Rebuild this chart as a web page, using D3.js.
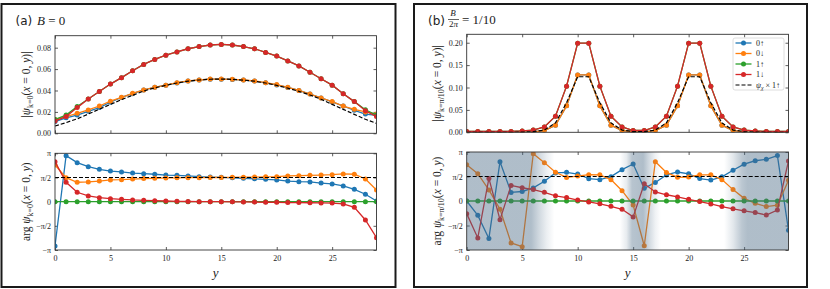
<!DOCTYPE html>
<html>
<head>
<meta charset="utf-8">
<script src="https://cdn.jsdelivr.net/npm/d3@7"></script>
<style>
  body { margin: 0; background: #fff; }
  text { fill: #222; }
  .tick text { font-family: 'Liberation Serif', 'DejaVu Serif', serif; font-size: 8px; }
</style>
</head>
<body>
<div id="chart"></div>
<script>
// ---- data ----
var ys = [0,1,2,3,4,5,6,7,8,9,10,11,12,13,14,15,16,17,18,19,20,21,22,23,24,25,26,27,28,29];
var seriesNames = ["0↑", "0↓", "1↑", "1↓"];
var seriesColors = ["#1f77b4", "#ff7f0e", "#2ca02c", "#d62728"];

// panel (a): B = 0
var absA = [
  [0.011,0.0145,0.017,0.0205,0.024,0.029,0.0335,0.037,0.0405,0.043,0.045,0.047,0.0488,0.0498,0.0506,0.0506,0.0503,0.0497,0.0488,0.0472,0.0452,0.0428,0.040,0.0367,0.033,0.0293,0.0255,0.0215,0.018,0.0168],
  [0.013,0.0156,0.0187,0.0218,0.0255,0.030,0.0336,0.0374,0.0405,0.043,0.045,0.0473,0.0489,0.0498,0.0507,0.0507,0.0504,0.0498,0.0489,0.0473,0.0455,0.043,0.040,0.0367,0.033,0.0296,0.0255,0.0224,0.020,0.018],
  [0.013,0.017,0.025,0.032,0.039,0.046,0.052,0.0585,0.0644,0.069,0.073,0.076,0.079,0.081,0.0825,0.083,0.0825,0.081,0.079,0.0756,0.0722,0.0676,0.063,0.057,0.051,0.045,0.037,0.0296,0.022,0.017],
  [0.0115,0.0156,0.024,0.032,0.039,0.046,0.052,0.0585,0.0644,0.069,0.073,0.076,0.079,0.081,0.0825,0.083,0.0825,0.081,0.079,0.0756,0.0722,0.0676,0.063,0.057,0.051,0.045,0.037,0.0296,0.021,0.0156]
];
var absAref = [0.0068,0.010,0.0135,0.018,0.0225,0.027,0.0315,0.0355,0.0395,0.0425,0.0448,0.047,0.0487,0.0498,0.0505,0.0507,0.0504,0.0497,0.0487,0.047,0.0448,0.0422,0.0392,0.0358,0.0318,0.027,0.0224,0.0177,0.0131,0.0093];
var argA = [
  [-2.88,2.99,2.535,2.275,2.10,1.99,1.93,1.86,1.82,1.78,1.73,1.71,1.67,1.62,1.60,1.58,1.55,1.52,1.48,1.45,1.41,1.34,1.30,1.28,1.21,1.15,1.02,0.80,0.48,0.04],
  [2.38,1.56,1.26,1.28,1.34,1.41,1.43,1.47,1.50,1.52,1.54,1.55,1.56,1.56,1.57,1.57,1.58,1.59,1.60,1.61,1.62,1.67,1.69,1.71,1.73,1.75,1.80,1.78,1.47,0.76],
  [0,0,0,0,0,0,0,0,0,0,0,0,0,0,0,0,0,0,0,0,0,0,0,0,0,0,0,0,0,0],
  [2.60,1.26,0.61,0.37,0.26,0.195,0.15,0.11,0.087,0.065,0.043,0.02,0.01,0,0,0,-0.01,-0.02,-0.03,-0.04,-0.04,-0.06,-0.06,-0.07,-0.08,-0.09,-0.15,-0.37,-1.19,-2.34]
];

// panel (b): B/2pi = 1/10
var absB = [
  [0,0,0,0,0,0.0005,0.001,0.004,0.016,0.059,0.128,0.128,0.059,0.016,0.004,0.001,0.001,0.004,0.016,0.059,0.128,0.128,0.059,0.016,0.004,0.001,0.0005,0,0,0],
  [0,0,0,0,0,0.0005,0.001,0.004,0.016,0.059,0.128,0.128,0.059,0.016,0.004,0.001,0.001,0.004,0.016,0.059,0.128,0.128,0.059,0.016,0.004,0.001,0.0005,0,0,0],
  [0.002,0.002,0.002,0.002,0.002,0.003,0.005,0.012,0.036,0.103,0.199,0.199,0.103,0.036,0.012,0.004,0.004,0.012,0.036,0.103,0.199,0.199,0.103,0.036,0.012,0.005,0.003,0.002,0.002,0.002],
  [0.002,0.002,0.002,0.002,0.002,0.003,0.005,0.012,0.036,0.103,0.199,0.199,0.103,0.036,0.012,0.004,0.004,0.012,0.036,0.103,0.199,0.199,0.103,0.036,0.012,0.005,0.003,0.002,0.002,0.002]
];
var absBref = [0,0,0,0,0,0.0005,0.0015,0.005,0.021,0.066,0.124,0.124,0.066,0.021,0.005,0.0015,0.0015,0.005,0.021,0.066,0.124,0.124,0.066,0.021,0.005,0.0015,0.0005,0,0,0];
var argB = [
  [0,-0.92,-2.40,2.52,0.55,0.61,0.84,1.27,1.80,1.84,1.73,1.43,1.37,1.56,2.01,2.37,0.81,1.19,1.67,1.86,1.74,1.44,1.34,1.55,1.97,2.36,2.58,2.67,2.91,-1.88],
  [2.33,1.75,0.71,-0.53,-2.69,-2.93,3.03,2.46,1.84,1.51,1.60,1.69,1.68,1.37,0.66,-0.26,-2.87,2.52,1.83,1.52,1.54,1.68,1.68,1.37,0.73,0.17,-0.15,-0.36,-0.27,1.33],
  [0,0,0,0,0,0,0,0,0,0,0,0,0,0,0,0,0,0,0,0,0,0,0,0,0,0,0,0,0,0],
  [-0.81,-2.37,1.45,-1.20,1.00,0.85,0.73,0.56,0.33,0.22,0.06,-0.06,-0.18,-0.34,-0.53,-1.02,1.11,0.58,0.40,0.26,0.11,-0.04,-0.19,-0.36,-0.50,-0.63,-0.74,-0.90,-0.58,2.57]
];
// shading where the amplitude is small: [y, strength]
var shadeB = [[0,1],[5.8,1],[6.5,0.6],[7.2,0.25],[7.9,0],[13.8,0],[14.4,0.3],[14.9,0.9],[15.9,1],[16.4,0.6],[17.0,0.2],[17.5,0],[23.2,0],[24.0,0.35],[24.8,0.85],[25.3,1],[29,1]];

var xTicks = [0,5,10,15,20,25];
var argTicks = [-Math.PI, -Math.PI/2, 0, Math.PI/2, Math.PI];
var argTickLabels = ["−π", "−π/2", "0", "π/2", "π"];

// ---- drawing ----
var W = 830, H = 289;
var serif = "'Liberation Serif', 'DejaVu Serif', serif";
var svg = d3.select("#chart").append("svg").attr("width", W).attr("height", H);
svg.append("rect").attr("width", W).attr("height", H).attr("fill", "#fff");
var defs = svg.append("defs");

function ylabel(g, x, y, parts) {
  var t = g.append("text")
    .attr("transform", "translate(" + x + "," + y + ") rotate(-90)")
    .attr("text-anchor", "middle")
    .style("font-family", serif)
    .style("font-size", "11.5px");
  parts.forEach(function(p) {
    var s = t.append("tspan").text(p[0]);
    if (p[1] == "i") s.style("font-style", "italic");
    if (p[1] == "sub") s.attr("dy", 3).style("font-size", "8px");
    if (p[1] == "unsub") s.attr("dy", -3);
  });
}

function drawAxes(g, id, x, yScale, yTicks, yLabels, showX) {
  g.append("clipPath").attr("id", id).append("rect")
    .attr("x", x.range()[0]).attr("y", yScale.range()[1])
    .attr("width", x.range()[1] - x.range()[0]).attr("height", yScale.range()[0] - yScale.range()[1]);

  var left = d3.axisLeft(yScale).tickValues(yTicks).tickSizeInner(-3).tickSizeOuter(0).tickPadding(4)
    .tickFormat(function(d, i) { return yLabels[i]; });
  var right = d3.axisRight(yScale).tickValues(yTicks).tickSizeInner(-3).tickSizeOuter(0).tickFormat("");
  var top = d3.axisTop(x).tickValues(xTicks).tickSizeInner(-3).tickSizeOuter(0).tickFormat("");
  var bottom = d3.axisBottom(x).tickValues(xTicks).tickSizeInner(-3).tickSizeOuter(0).tickPadding(5)
    .tickFormat(showX ? d3.format("d") : "");

  var axes = [
    [left, "translate(" + x.range()[0] + ",0)"],
    [right, "translate(" + x.range()[1] + ",0)"],
    [top, "translate(0," + yScale.range()[1] + ")"],
    [bottom, "translate(0," + yScale.range()[0] + ")"]
  ];
  axes.forEach(function(a) {
    var ag = g.append("g").attr("class", "axis").attr("transform", a[1]).call(a[0]);
    ag.attr("font-family", null).attr("font-size", null);
    ag.select(".domain").remove();
    ag.selectAll(".tick line").attr("stroke", "#333").attr("stroke-width", 0.8);
    ag.selectAll(".tick text").style("font-family", serif).style("font-size", "8px");
  });
}

function drawSeries(g, id, x, yScale, series) {
  var plot = g.append("g").attr("clip-path", "url(#" + id + ")");
  var line = d3.line().x(function(d, i) { return x(ys[i]); }).y(function(d) { return yScale(d); });
  series.forEach(function(vals, k) {
    var sg = plot.append("g");
    sg.append("path").datum(vals).attr("d", line).attr("fill", "none")
      .attr("stroke", seriesColors[k]).attr("stroke-width", 1.3);
    sg.selectAll("circle").data(vals).enter().append("circle")
      .attr("cx", function(d, i) { return x(ys[i]); })
      .attr("cy", function(d) { return yScale(d); })
      .attr("r", 2.5).attr("fill", seriesColors[k]);
  });
  return plot;
}

function drawRef(plot, x, yScale, ref) {
  var line = d3.line().x(function(d, i) { return x(ys[i]); }).y(function(d) { return yScale(d); });
  plot.append("path").datum(ref).attr("d", line).attr("fill", "none")
    .attr("stroke", "#000").attr("stroke-width", 1.2).attr("stroke-dasharray", "4,2");
}

function frameAxes(g, x, yScale) {
  g.append("rect")
    .attr("x", x.range()[0]).attr("y", yScale.range()[1])
    .attr("width", x.range()[1] - x.range()[0]).attr("height", yScale.range()[0] - yScale.range()[1])
    .attr("fill", "none").attr("stroke", "#333").attr("stroke-width", 0.9);
}

function panel(cfg) {
  var g = svg.append("g");
  g.append("rect").attr("x", cfg.frame[0]).attr("y", cfg.frame[1])
    .attr("width", cfg.frame[2]).attr("height", cfg.frame[3])
    .attr("fill", "none").attr("stroke", "#1a1a1a").attr("stroke-width", 2);

  var x = d3.scaleLinear().domain([0, 29]).range([cfg.x0, cfg.x1]);
  var yTop = d3.scaleLinear().domain([0, cfg.absMax]).range(cfg.topY);
  var yBot = d3.scaleLinear().domain([-Math.PI, Math.PI]).range(cfg.botY);

  // top: |psi|
  drawAxes(g, cfg.id + "t", x, yTop, cfg.absTicks, cfg.absTicks.map(d3.format(".2f")), false);
  var p1 = drawSeries(g, cfg.id + "t", x, yTop, cfg.abs);
  drawRef(p1, x, yTop, cfg.absRef);
  frameAxes(g, x, yTop);

  // bottom: arg psi
  drawAxes(g, cfg.id + "b", x, yBot, argTicks, argTickLabels, true);
  var p2 = drawSeries(g, cfg.id + "b", x, yBot, cfg.arg);
  if (cfg.shade) {
    var grad = defs.append("linearGradient").attr("id", cfg.id + "grad")
      .attr("gradientUnits", "userSpaceOnUse")
      .attr("x1", x(0)).attr("x2", x(29)).attr("y1", 0).attr("y2", 0);
    cfg.shade.forEach(function(s) {
      grad.append("stop").attr("offset", s[0] / 29)
        .attr("stop-color", "#4a6a85").attr("stop-opacity", 0.44 * s[1]);
    });
    p2.append("rect").attr("x", x(0)).attr("y", yBot.range()[1])
      .attr("width", x(29) - x(0)).attr("height", yBot.range()[0] - yBot.range()[1])
      .attr("fill", "url(#" + cfg.id + "grad)");
  }
  drawRef(p2, x, yBot, ys.map(function() { return Math.PI / 2; }));
  frameAxes(g, x, yBot);

  ylabel(g, cfg.labelX, (cfg.topY[0] + cfg.topY[1]) / 2,
    [["|"], ["ψ", "i"], [cfg.sub, "sub"], ["(", "unsub"], ["x", "i"], [" = 0, "], ["y", "i"], [")|"]]);
  ylabel(g, cfg.labelX, (cfg.botY[0] + cfg.botY[1]) / 2,
    [["arg "], ["ψ", "i"], [cfg.sub, "sub"], ["(", "unsub"], ["x", "i"], [" = 0, "], ["y", "i"], [")"]]);

  g.append("text").attr("x", (cfg.x0 + cfg.x1) / 2).attr("y", 277).attr("text-anchor", "middle")
    .style("font-family", serif).style("font-style", "italic").style("font-size", "13px")
    .text("y");

  g.append("text").attr("x", cfg.frame[0] + 14).attr("y", 25)
    .style("font-family", "'DejaVu Sans', sans-serif").style("font-size", "12px").text(cfg.tag);
  return { g: g, x: x, yTop: yTop };
}

var a = panel({
  id: "pa", tag: "(a)", frame: [1.5, 4, 394, 283], x0: 55, x1: 376.5,
  topY: [133.3, 35.7], botY: [250, 153.3], absMax: 0.0912,
  absTicks: [0, 0.02, 0.04, 0.06, 0.08], abs: absA, absRef: absAref, arg: argA,
  sub: "k=0", labelX: 30
});
var b = panel({
  id: "pb", tag: "(b)", frame: [414, 4, 393, 283], x0: 466.7, x1: 788.5,
  topY: [132.3, 34.3], botY: [250, 152], absMax: 0.2188,
  absTicks: [0, 0.05, 0.10, 0.15, 0.20], abs: absB, absRef: absBref, arg: argB, shade: shadeB,
  sub: "k=π/10", labelX: 441
});

// titles
a.g.append("text").attr("x", 37).attr("y", 25).style("font-family", serif).style("font-size", "13px")
  .call(function(t) {
    t.append("tspan").style("font-style", "italic").text("B");
    t.append("tspan").text(" = 0");
  });
b.g.append("text").attr("x", 453).attr("y", 16).attr("text-anchor", "middle")
  .style("font-family", serif).style("font-style", "italic").style("font-size", "9px").text("B");
b.g.append("line").attr("x1", 448).attr("x2", 459).attr("y1", 19.5).attr("y2", 19.5)
  .attr("stroke", "#222").attr("stroke-width", 0.7);
b.g.append("text").attr("x", 453.5).attr("y", 27).attr("text-anchor", "middle")
  .style("font-family", serif).style("font-size", "9px")
  .call(function(t) {
    t.append("tspan").text("2");
    t.append("tspan").style("font-style", "italic").text("π");
  });
b.g.append("text").attr("x", 462).attr("y", 24).style("font-family", serif).style("font-size", "13px")
  .text("= 1/10");

// legend
var lg = b.g.append("g").attr("transform", "translate(733,38)");
lg.append("rect").attr("width", 51).attr("height", 52).attr("rx", 2)
  .attr("fill", "#fff").attr("fill-opacity", 0.85).attr("stroke", "#d5d5d5").attr("stroke-width", 0.8);
var legendRows = seriesNames.concat(["ref"]);
legendRows.forEach(function(name, i) {
  var yy = 5 + i * 10.5;
  var row = lg.append("g").attr("transform", "translate(0," + yy + ")");
  if (i < 4) {
    row.append("line").attr("x1", 2.5).attr("x2", 18.5).attr("stroke", seriesColors[i]).attr("stroke-width", 1.3);
    row.append("circle").attr("cx", 10.5).attr("r", 2.5).attr("fill", seriesColors[i]);
    row.append("text").attr("x", 23).attr("y", 2.8).style("font-family", serif).style("font-size", "8px").text(name);
  } else {
    row.append("line").attr("x1", 2.5).attr("x2", 18.5).attr("stroke", "#000").attr("stroke-width", 1.2)
      .attr("stroke-dasharray", "4,2");
    row.append("text").attr("x", 23).attr("y", 2.8).style("font-family", serif).style("font-size", "8px")
      .call(function(t) {
        t.append("tspan").style("font-style", "italic").text("ψ");
        t.append("tspan").attr("dy", 2).style("font-size", "6px").style("font-style", "italic").text("χ");
        t.append("tspan").attr("dy", -2).text(" × 1↑");
      });
  }
});
</script>
</body>
</html>
